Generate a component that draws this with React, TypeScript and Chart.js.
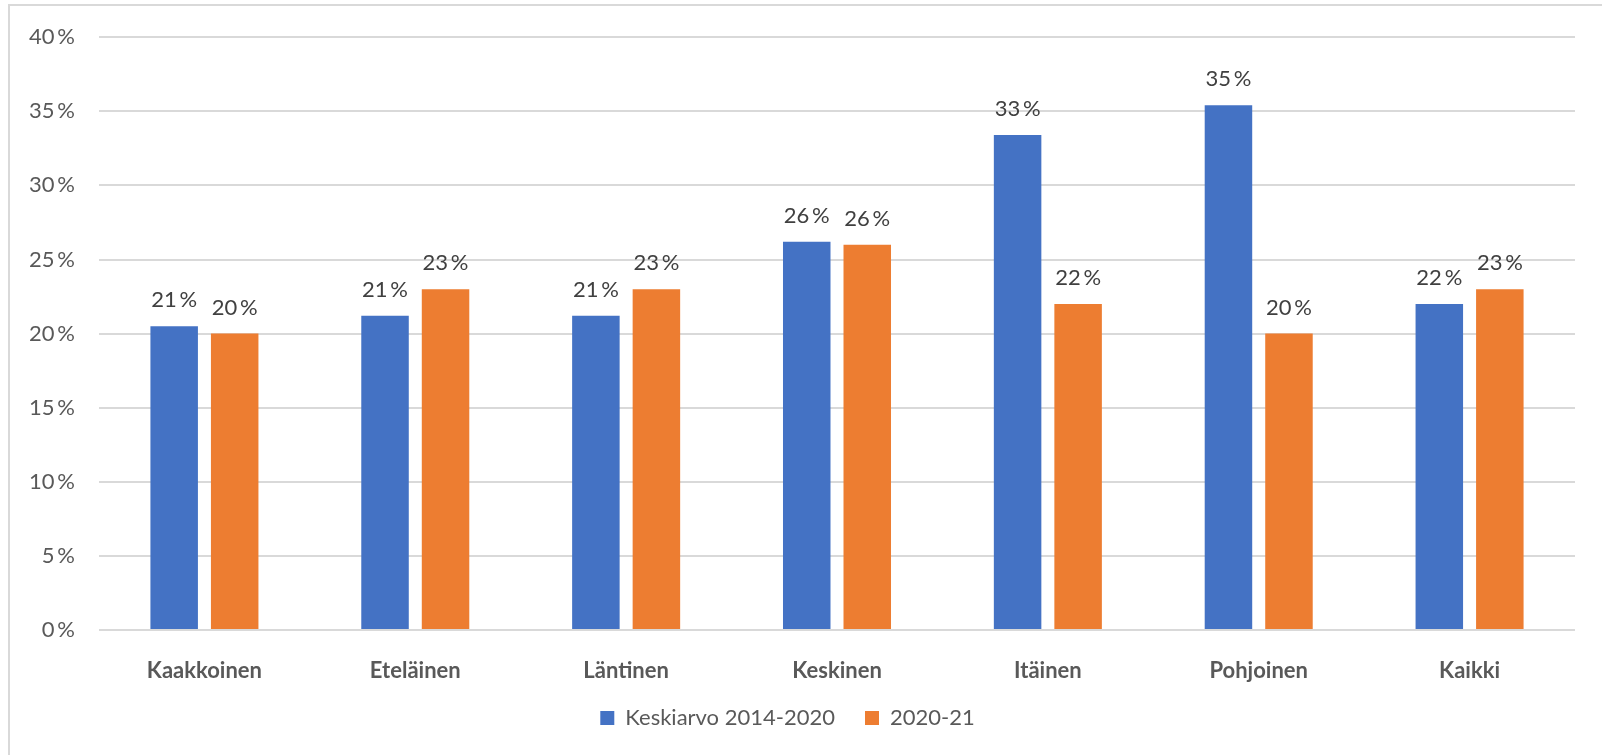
import React, { useEffect, useRef } from "react";
import { Chart, registerables } from "chart.js";

Chart.register(...registerables);

const categories = ["Kaakkoinen", "Eteläinen", "Läntinen", "Keskinen", "Itäinen", "Pohjoinen", "Kaikki"];
const seriesAvgLabel = "Keskiarvo 2014-2020";
const seriesAvg = [20.5, 21.2, 21.2, 26.2, 33.4, 35.4, 22.0];
const seriesCurLabel = "2020-21";
const seriesCur = [20.0, 23.0, 23.0, 26.0, 22.0, 20.0, 23.0];
const yMin = 0;
const yMax = 40;
const yStep = 5;

const FONT = "Lato, 'Open Sans', sans-serif";
const pct = (v: number) => `${Math.round(v)}\u2009%`;

const frame = {
  id: "frame",
  beforeDraw(chart: any) {
    const ctx = chart.ctx;
    ctx.save();
    ctx.fillStyle = "#ffffff";
    ctx.fillRect(0, 0, chart.width, chart.height);
    ctx.strokeStyle = "#d9d9d9";
    ctx.lineWidth = 2;
    ctx.strokeRect(9, 5, 3000, 3000);
    ctx.restore();
  },
};

const legendShift = {
  id: "legendShift",
  afterLayout(chart: any) {
    const lg = chart.legend;
    if (lg) {
      lg.top -= 10;
      lg.bottom -= 10;
    }
  },
};

const valueLabels = {
  id: "valueLabels",
  afterDatasetsDraw(chart: any) {
    const ctx = chart.ctx;
    ctx.save();
    ctx.font = `22px ${FONT}`;
    ctx.fillStyle = "#404040";
    ctx.textAlign = "center";
    ctx.textBaseline = "alphabetic";
    chart.data.datasets.forEach((ds: any, di: number) => {
      const meta = chart.getDatasetMeta(di);
      meta.data.forEach((el: any, i: number) => {
        ctx.fillText(pct(ds.data[i]), el.x, el.y - 19);
      });
    });
    ctx.restore();
  },
};

export default function App() {
  const ref = useRef<HTMLCanvasElement | null>(null);
  useEffect(() => {
    if (!ref.current) return;
    const chart = new Chart(ref.current, {
      type: "bar",
      data: {
        labels: categories,
        datasets: [
          {
            label: seriesAvgLabel,
            data: seriesAvg,
            backgroundColor: "#4472C4",
            categoryPercentage: 0.574,
            barPercentage: 0.785,
          },
          {
            label: seriesCurLabel,
            data: seriesCur,
            backgroundColor: "#ED7D31",
            categoryPercentage: 0.574,
            barPercentage: 0.785,
          },
        ],
      },
      options: {
        responsive: false,
        animation: false,
        layout: { padding: { left: 0, right: 27, top: 35, bottom: 6 } },
        plugins: {
          legend: {
            position: "bottom",
            labels: {
              boxWidth: 14,
              boxHeight: 14,
              padding: 30,
              color: "#595959",
              font: { family: FONT, size: 22 },
            },
          },
          tooltip: { enabled: false },
        },
        scales: {
          x: {
            grid: { display: false },
            border: { display: false },
            ticks: {
              color: "#595959",
              padding: 20,
              font: { family: FONT, size: 22, weight: "bold" },
            },
            afterFit: (s: any) => {
              s.height = 57;
            },
          },
          y: {
            min: yMin,
            max: yMax,
            border: { display: false },
            grid: { color: "#d9d9d9", lineWidth: 2, drawTicks: false },
            ticks: {
              stepSize: yStep,
              padding: 24,
              color: "#595959",
              font: { family: FONT, size: 22 },
              callback: (v: any) => `${v}\u2009%`,
            },
            afterFit: (s: any) => {
              s.width = 99;
            },
          },
        },
      },
      plugins: [frame, legendShift, valueLabels],
    });
    return () => chart.destroy();
  }, []);
  return (
    <div style={{ position: "absolute", left: 0, top: 0, width: 1602, height: 755 }}>
      <canvas ref={ref} width={1602} height={755} style={{ width: 1602, height: 755 }} />
    </div>
  );
}
